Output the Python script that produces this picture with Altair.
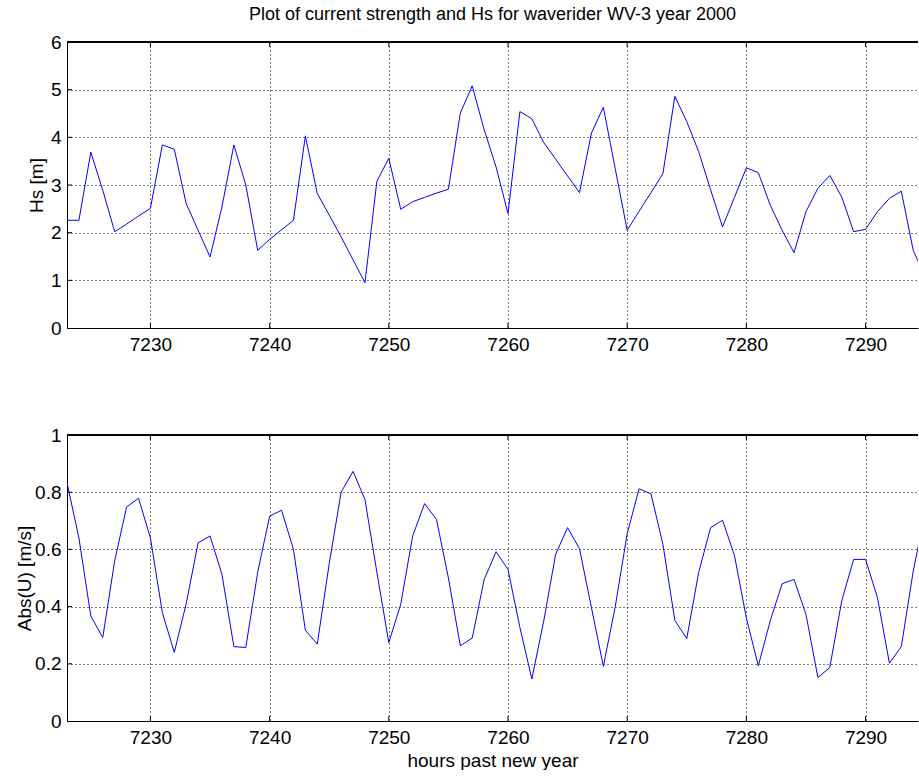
import altair as alt
import pandas as pd

# ---------------- data ----------------
hours = list(range(7223, 7296))

hs_values = [
    2.26, 2.26, 3.69, 2.89, 2.02, 2.18, 2.35, 2.51, 3.84, 3.75,
    2.61, 2.05, 1.49, 2.54, 3.84, 3.00, 1.63, 1.86, 2.06, 2.26,
    4.03, 2.82, 2.37, 1.91, 1.43, 0.95, 3.08, 3.56, 2.49, 2.65,
    2.74, 2.83, 2.91, 4.51, 5.08, 4.16, 3.38, 2.40, 4.54, 4.39,
    3.89, 3.54, 3.19, 2.84, 4.09, 4.63, 3.34, 2.05, 2.45, 2.84,
    3.24, 4.86, 4.33, 3.70, 2.90, 2.12, 2.74, 3.36, 3.26, 2.58,
    2.05, 1.58, 2.44, 2.93, 3.20, 2.75, 2.02, 2.07, 2.44, 2.72,
    2.87, 1.63, 1.07,
]

u_values = [
    0.833, 0.640, 0.367, 0.292, 0.560, 0.748, 0.779, 0.640, 0.379, 0.240,
    0.410, 0.623, 0.647, 0.513, 0.260, 0.257, 0.520, 0.716, 0.737, 0.600,
    0.317, 0.269, 0.550, 0.800, 0.873, 0.774, 0.520, 0.274, 0.408, 0.647,
    0.760, 0.705, 0.500, 0.263, 0.290, 0.495, 0.592, 0.530, 0.327, 0.147,
    0.350, 0.583, 0.676, 0.602, 0.397, 0.191, 0.400, 0.655, 0.812, 0.794,
    0.617, 0.352, 0.288, 0.520, 0.676, 0.702, 0.579, 0.360, 0.193, 0.350,
    0.480, 0.495, 0.373, 0.152, 0.187, 0.420, 0.565, 0.565, 0.431, 0.202,
    0.260, 0.524, 0.730,
]

x_ticks = [7230, 7240, 7250, 7260, 7270, 7280, 7290]
hs_ticks = [0, 1, 2, 3, 4, 5, 6]
u_ticks = [0, 0.2, 0.4, 0.6, 0.8, 1]

title_text = "Plot of current strength and Hs for waverider WV-3 year 2000"
x_title = "hours past new year"

# ---------------- layout / style ----------------
X_DOMAIN = [7223, 7294.4]
W, H = 851, 286
FONT = "Liberation Sans"
LBL = 19


def panel(values, ytitle, ydomain, yticks, show_xtitle, ytitle_x):
    df = pd.DataFrame({"hour": hours, "v": values})
    xs = alt.Scale(domain=X_DOMAIN, nice=False, zero=False)
    ys = alt.Scale(domain=ydomain, nice=False, zero=False)

    xaxis_kw = dict(
        values=x_ticks, format="d", grid=True, gridDash=[1, 3],
        gridColor="black", gridOpacity=1, gridWidth=1,
        ticks=False, tickSize=0, domain=True, domainColor="black",
        domainWidth=1, labelFontSize=LBL, labelPadding=7,
        labelColor="black", labelFont=FONT,
        titleFontSize=LBL, titleFont=FONT, titleFontWeight="normal",
        titleColor="black", titlePadding=4,
    )
    xtitle = x_title if show_xtitle else ""
    xaxis = alt.Axis(**xaxis_kw)

    yaxis = alt.Axis(
        values=yticks, format="~g", grid=True, gridDash=[1, 3],
        gridColor="black", gridOpacity=1, gridWidth=1,
        ticks=False, tickSize=0, domain=True, domainColor="black",
        domainWidth=1, labelFontSize=LBL, labelPadding=6,
        labelColor="black", labelFont=FONT,
        titleFontSize=LBL, titleFont=FONT,
        titleFontWeight="normal", titleColor="black",
        titleAngle=-90, titleX=ytitle_x, titleBaseline="middle",
    )

    line = alt.Chart(df).mark_line(color="#0000ff", strokeWidth=1, clip=True).encode(
        x=alt.X("hour:Q", scale=xs, axis=xaxis, title=xtitle),
        y=alt.Y("v:Q", scale=ys, axis=yaxis, title=ytitle),
    )

    xt = pd.DataFrame({"t": x_ticks})
    yt = pd.DataFrame({"t": yticks[1:-1]})

    bot_ticks = alt.Chart(xt).mark_rule(color="black", strokeWidth=1).encode(
        x=alt.X("t:Q", scale=xs, axis=xaxis, title=xtitle),
        y=alt.value(H - 5), y2=alt.value(H),
    )
    top_ticks = alt.Chart(xt).mark_rule(color="black", strokeWidth=1).encode(
        x=alt.X("t:Q", scale=xs, axis=xaxis, title=xtitle),
        y=alt.value(0), y2=alt.value(5),
    )
    left_ticks = alt.Chart(yt).mark_rule(color="black", strokeWidth=1).encode(
        y=alt.Y("t:Q", scale=ys, axis=yaxis, title=ytitle),
        x=alt.value(0), x2=alt.value(5),
    )
    top_border = alt.Chart(xt).mark_rule(color="black", strokeWidth=1).encode(
        x=alt.value(0), x2=alt.value(W), y=alt.value(0),
    )

    return alt.layer(line, bot_ticks, top_ticks, left_ticks, top_border).properties(
        width=W, height=H
    )


top = panel(hs_values, "Hs [m]", [0, 6], hs_ticks, False, -31).properties(
    title=alt.TitleParams(
        text=title_text, font=FONT, fontSize=18, fontWeight="normal",
        color="black", anchor="middle", frame="group", offset=9,
    )
)
bottom = panel(u_values, "Abs(U) [m/s]", [0, 1], u_ticks, True, -43)

chart = alt.vconcat(top, bottom, spacing=72).properties(
    padding={"left": 15, "top": 6, "right": 0, "bottom": 0},
    background="white",
).configure_view(strokeWidth=0)

chart.save("out.html", embed_options={"renderer": "svg", "actions": False})
